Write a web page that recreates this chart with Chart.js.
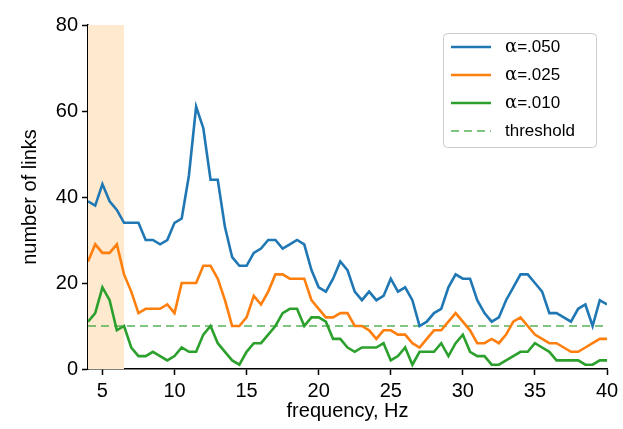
<!DOCTYPE html>
<html>
<head>
<meta charset="utf-8">
<script src="https://cdn.jsdelivr.net/npm/chart.js@4/dist/chart.umd.min.js"></script>
<style>
  html, body { margin: 0; padding: 0; background: #fff; }
  #wrap { width: 623px; height: 429px; }
</style>
</head>
<body>
<div id="wrap"><canvas id="linksChart"></canvas></div>
<script>
// frequency bins, Hz
const freqs = [4, 4.5, 5, 5.5, 6, 6.5, 7, 7.5, 8, 8.5, 9, 9.5, 10, 10.5, 11, 11.5, 12, 12.5, 13, 13.5,
  14, 14.5, 15, 15.5, 16, 16.5, 17, 17.5, 18, 18.5, 19, 19.5, 20, 20.5, 21, 21.5, 22, 22.5, 23, 23.5,
  24, 24.5, 25, 25.5, 26, 26.5, 27, 27.5, 28, 28.5, 29, 29.5, 30, 30.5, 31, 31.5, 32, 32.5, 33, 33.5,
  34, 34.5, 35, 35.5, 36, 36.5, 37, 37.5, 38, 38.5, 39, 39.5, 40];

const links050 = [39, 38, 43, 39, 37, 34, 34, 34, 30, 30, 29, 30, 34, 35, 45, 61, 56, 44, 44, 33,
  26, 24, 24, 27, 28, 30, 30, 28, 29, 30, 29, 23, 19, 18, 21, 25, 23, 18, 16, 18,
  16, 17, 21, 18, 19, 16, 10, 11, 13, 14, 19, 22, 21, 21, 16, 13, 11, 12, 16, 19,
  22, 22, 20, 18, 13, 13, 12, 11, 14, 15, 10, 16, 15];

const links025 = [25, 29, 27, 27, 29, 22, 18, 13, 14, 14, 14, 15, 13, 20, 20, 20, 24, 24, 21, 16,
  10, 10, 12, 17, 15, 18, 22, 22, 21, 21, 21, 16, 14, 12, 12, 13, 13, 10, 10, 9,
  7, 9, 9, 8, 8, 6, 5, 7, 9, 9, 11, 13, 11, 9, 6, 6, 7, 6, 8, 11,
  12, 10, 8, 7, 6, 6, 5, 4, 4, 5, 6, 7, 7];

const links010 = [11, 13, 19, 16, 9, 10, 5, 3, 3, 4, 3, 2, 3, 5, 4, 4, 8, 10, 6, 4,
  2, 1, 4, 6, 6, 8, 10, 13, 14, 14, 10, 12, 12, 11, 7, 7, 5, 4, 5, 5,
  5, 6, 2, 3, 5, 1, 4, 4, 4, 6, 3, 6, 8, 4, 3, 3, 1, 1, 2, 3,
  4, 4, 6, 5, 4, 2, 2, 2, 2, 1, 1, 2, 2];

const threshold = 10;
const shadeBand = [4, 6.5];      // highlighted frequency range
const xTicks = [5, 10, 15, 20, 25, 30, 35, 40];
const yTicks = [0, 20, 40, 60, 80];

const seriesLabels = ['α=.050', 'α=.025', 'α=.010', 'threshold'];

function pts(vals) {
  return vals.map((v, i) => ({ x: freqs[i], y: v }));
}

const FONT = '"Liberation Sans", Arial, Helvetica, sans-serif';

// light orange band behind the lines
const bandPlugin = {
  id: 'band',
  beforeDatasetsDraw(chart) {
    const { ctx, chartArea, scales } = chart;
    const x0 = scales.x.getPixelForValue(shadeBand[0]);
    const x1 = scales.x.getPixelForValue(shadeBand[1]);
    ctx.save();
    ctx.fillStyle = '#ffe9cf';
    ctx.fillRect(x0, chartArea.top, x1 - x0, chartArea.bottom - chartArea.top);
    ctx.restore();
  }
};

// matplotlib-like legend box in the top right corner
const legendPlugin = {
  id: 'boxLegend',
  afterDraw(chart) {
    const ctx = chart.ctx;
    const bx = 443, by = 33, bw = 153, bh = 114;
    ctx.save();
    ctx.fillStyle = 'rgba(255,255,255,0.85)';
    ctx.strokeStyle = '#cccccc';
    ctx.lineWidth = 1;
    ctx.beginPath();
    ctx.roundRect(bx + 0.5, by + 0.5, bw, bh, 4);
    ctx.fill();
    ctx.stroke();
    chart.data.datasets.forEach((ds, i) => {
      const y = by + 14 + i * 28;
      ctx.strokeStyle = ds.borderColor;
      ctx.lineWidth = ds.borderWidth;
      ctx.setLineDash(ds.borderDash || []);
      ctx.beginPath();
      ctx.moveTo(bx + 8, y);
      ctx.lineTo(bx + 48, y);
      ctx.stroke();
      ctx.setLineDash([]);
      ctx.fillStyle = '#000';
      ctx.textBaseline = 'middle';
      let tx = bx + 62;
      let label = ds.label;
      if (label.startsWith('α')) {
        ctx.font = '18px "DejaVu Serif", "Liberation Serif", serif';
        ctx.fillText('α', tx, y);
        tx += ctx.measureText('α').width;
        label = label.slice(1);
      }
      ctx.font = '17px ' + FONT;
      ctx.fillText(label, tx, y);
    });
    ctx.restore();
  }
};

const axisCommon = {
  grid: { display: true, drawOnChartArea: false, drawTicks: true, tickLength: 6, tickWidth: 1.5, tickColor: '#000' },
  border: { display: true, color: '#000', width: 1.5 },
  ticks: { color: '#000', font: { family: FONT, size: 20 }, padding: 4 }
};

new Chart(document.getElementById('linksChart'), {
  type: 'line',
  data: {
    datasets: [
      { label: seriesLabels[0], data: pts(links050), borderColor: '#1f77b4', borderWidth: 2.6 },
      { label: seriesLabels[1], data: pts(links025), borderColor: '#ff7f0e', borderWidth: 2.6 },
      { label: seriesLabels[2], data: pts(links010), borderColor: '#2ca02c', borderWidth: 2.6 },
      { label: seriesLabels[3], data: [{ x: freqs[0], y: threshold }, { x: freqs[freqs.length - 1], y: threshold }],
        borderColor: 'rgba(44,160,44,0.8)', borderWidth: 1.6, borderDash: [8, 5] }
    ]
  },
  options: {
    responsive: true,
    maintainAspectRatio: false,
    animation: false,
    elements: { point: { radius: 0 }, line: { tension: 0 } },
    layout: { padding: { left: 0, top: 25, right: 16, bottom: 0 } },
    scales: {
      x: {
        type: 'linear',
        min: 4, max: 40,
        ...axisCommon,
        afterBuildTicks(scale) { scale.ticks = xTicks.map(v => ({ value: v })); },
        afterFit(scale) { scale.height = 60; },
        title: { display: true, text: 'frequency, Hz', color: '#000', font: { family: FONT, size: 20 }, padding: { top: 0, bottom: 6 } }
      },
      y: {
        min: 0, max: 80,
        ...axisCommon,
        afterBuildTicks(scale) { scale.ticks = yTicks.map(v => ({ value: v })); },
        afterFit(scale) { scale.width = 88; },
        title: { display: true, text: 'number of links', color: '#000', font: { family: FONT, size: 20 }, padding: { top: 18, bottom: 0 } }
      }
    },
    plugins: {
      legend: { display: false },
      tooltip: { enabled: false }
    }
  },
  plugins: [bandPlugin, legendPlugin]
});
</script>
</body>
</html>
